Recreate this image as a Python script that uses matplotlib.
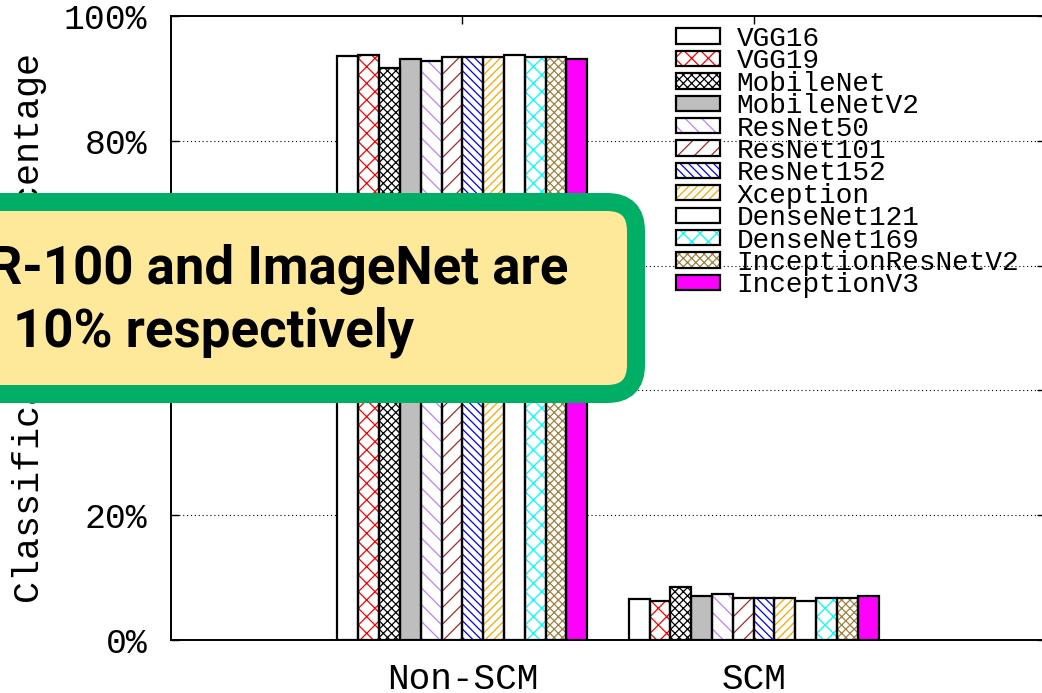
import matplotlib
matplotlib.use("Agg")
import matplotlib.pyplot as plt
from matplotlib.patches import Patch, FancyBboxPatch
from matplotlib.transforms import IdentityTransform
import numpy as np

# ---------------- data ----------------
groups = ["Non-SCM", "SCM"]
models = ["VGG16", "VGG19", "MobileNet", "MobileNetV2", "ResNet50", "ResNet101",
          "ResNet152", "Xception", "DenseNet121", "DenseNet169",
          "InceptionResNetV2", "InceptionV3"]
non_scm = [93.6, 93.75, 91.6, 93.05, 92.8, 93.5, 93.4, 93.4, 93.8, 93.4, 93.5, 93.05]
scm = [6.5, 6.3, 8.45, 7.05, 7.3, 6.7, 6.7, 6.7, 6.3, 6.7, 6.7, 7.1]
yticks = [0, 20, 40, 60, 80, 100]
ytick_labels = ["0%", "20%", "40%", "60%", "80%", "100%"]

# styles: (facecolor, hatchcolor, hatch)
styles = [
    ("white", "black", ""),
    ("white", "#FF0000", "xx"),
    ("white", "black", "xxxx"),
    ("#BEBEBE", "#BEBEBE", ""),
    ("white", "#C080FF", "\\\\"),
    ("white", "#A52A2A", "//"),
    ("white", "#0000FF", "\\\\\\\\"),
    ("white", "#FFA500", "////"),
    ("white", "black", ""),
    ("white", "#00FFFF", "xx"),
    ("white", "#A0803C", "xxxx"),
    ("#FF00FF", "#FF00FF", ""),
]

W, H = 1042, 693
plt.rcParams["hatch.linewidth"] = 0.9
mono = ["Liberation Mono", "DejaVu Sans Mono"]

fig = plt.figure(figsize=(W / 100, H / 100), dpi=100)
ax = fig.add_axes([171 / W, (H - 640) / H, 874 / W, 624 / H])

n = len(models)
bw = 1.0 / (n + 2)
xg = np.arange(len(groups))
handles = []
for i, m in enumerate(models):
    fc, hc, hatch = styles[i]
    vals = [non_scm[i], scm[i]]
    xs = xg + (i - (n - 1) / 2) * bw
    ax.bar(xs, vals, bw, color=fc, edgecolor=hc, hatch=hatch, linewidth=0, zorder=2)
    ax.bar(xs, vals, bw, fill=False, edgecolor="black", linewidth=1.6, zorder=3)
    handles.append((Patch(facecolor=fc, edgecolor=hc, hatch=hatch, linewidth=0),
                    Patch(fill=False, edgecolor="black", linewidth=1.6)))

ax.set_xlim(-1, 2)
ax.set_ylim(0, 100)
ax.set_xticks(xg)
ax.set_xticklabels(groups, fontfamily=mono, fontsize=26)
ax.set_yticks(yticks)
ax.set_yticklabels(ytick_labels, fontfamily=mono, fontsize=25)
ax.tick_params(axis="y", direction="in", length=6, width=1, right=True, pad=17)
ax.tick_params(axis="x", direction="in", length=6, width=1, top=True, pad=16)
for s in ax.spines.values():
    s.set_linewidth(1.4)
ax.set_axisbelow(True)
ax.yaxis.grid(True, linestyle=(0, (1, 2.5)), linewidth=0.8, color="black")
for gl, t in zip(ax.yaxis.get_gridlines(), yticks):
    if t in (0, 100):
        gl.set_visible(False)

ax.set_ylabel("Classification Percentage", fontfamily=mono, fontsize=26.5)
ax.yaxis.set_label_coords((47 - 171) / 874, 0.5)

leg = ax.legend(handles, models, loc="upper left",
                bbox_to_anchor=((676 - 171) / 874, (640 - 26) / 624),
                frameon=False, prop={"family": mono, "size": 20},
                handlelength=1.58, handleheight=0.47, handletextpad=0.6,
                labelspacing=-0.13, borderpad=0, borderaxespad=0)

# ---------------- overlay callout ----------------
bx0, bx1 = -40, 636
by0, by1 = H - 394, H - 202
box = FancyBboxPatch((bx0, by0), bx1 - bx0, by1 - by0,
                     boxstyle="round,pad=0,rounding_size=29",
                     facecolor="#FEE99B", edgecolor="#00AE65", linewidth=18 * 0.72,
                     transform=IdentityTransform(), zorder=10)
fig.add_artist(box)
fig.text(568 / W, (H - 284.3) / H, "CIFAR-100 and ImageNet are", ha="right", va="baseline",
         fontfamily="Roboto", fontweight="bold", fontsize=38, color="black", zorder=11)
fig.text(13 / W, (H - 346.7) / H, "10% respectively", ha="left", va="baseline",
         fontfamily="Roboto", fontweight="bold", fontsize=38, color="black", zorder=11)

fig.savefig("out.png", dpi=100)
